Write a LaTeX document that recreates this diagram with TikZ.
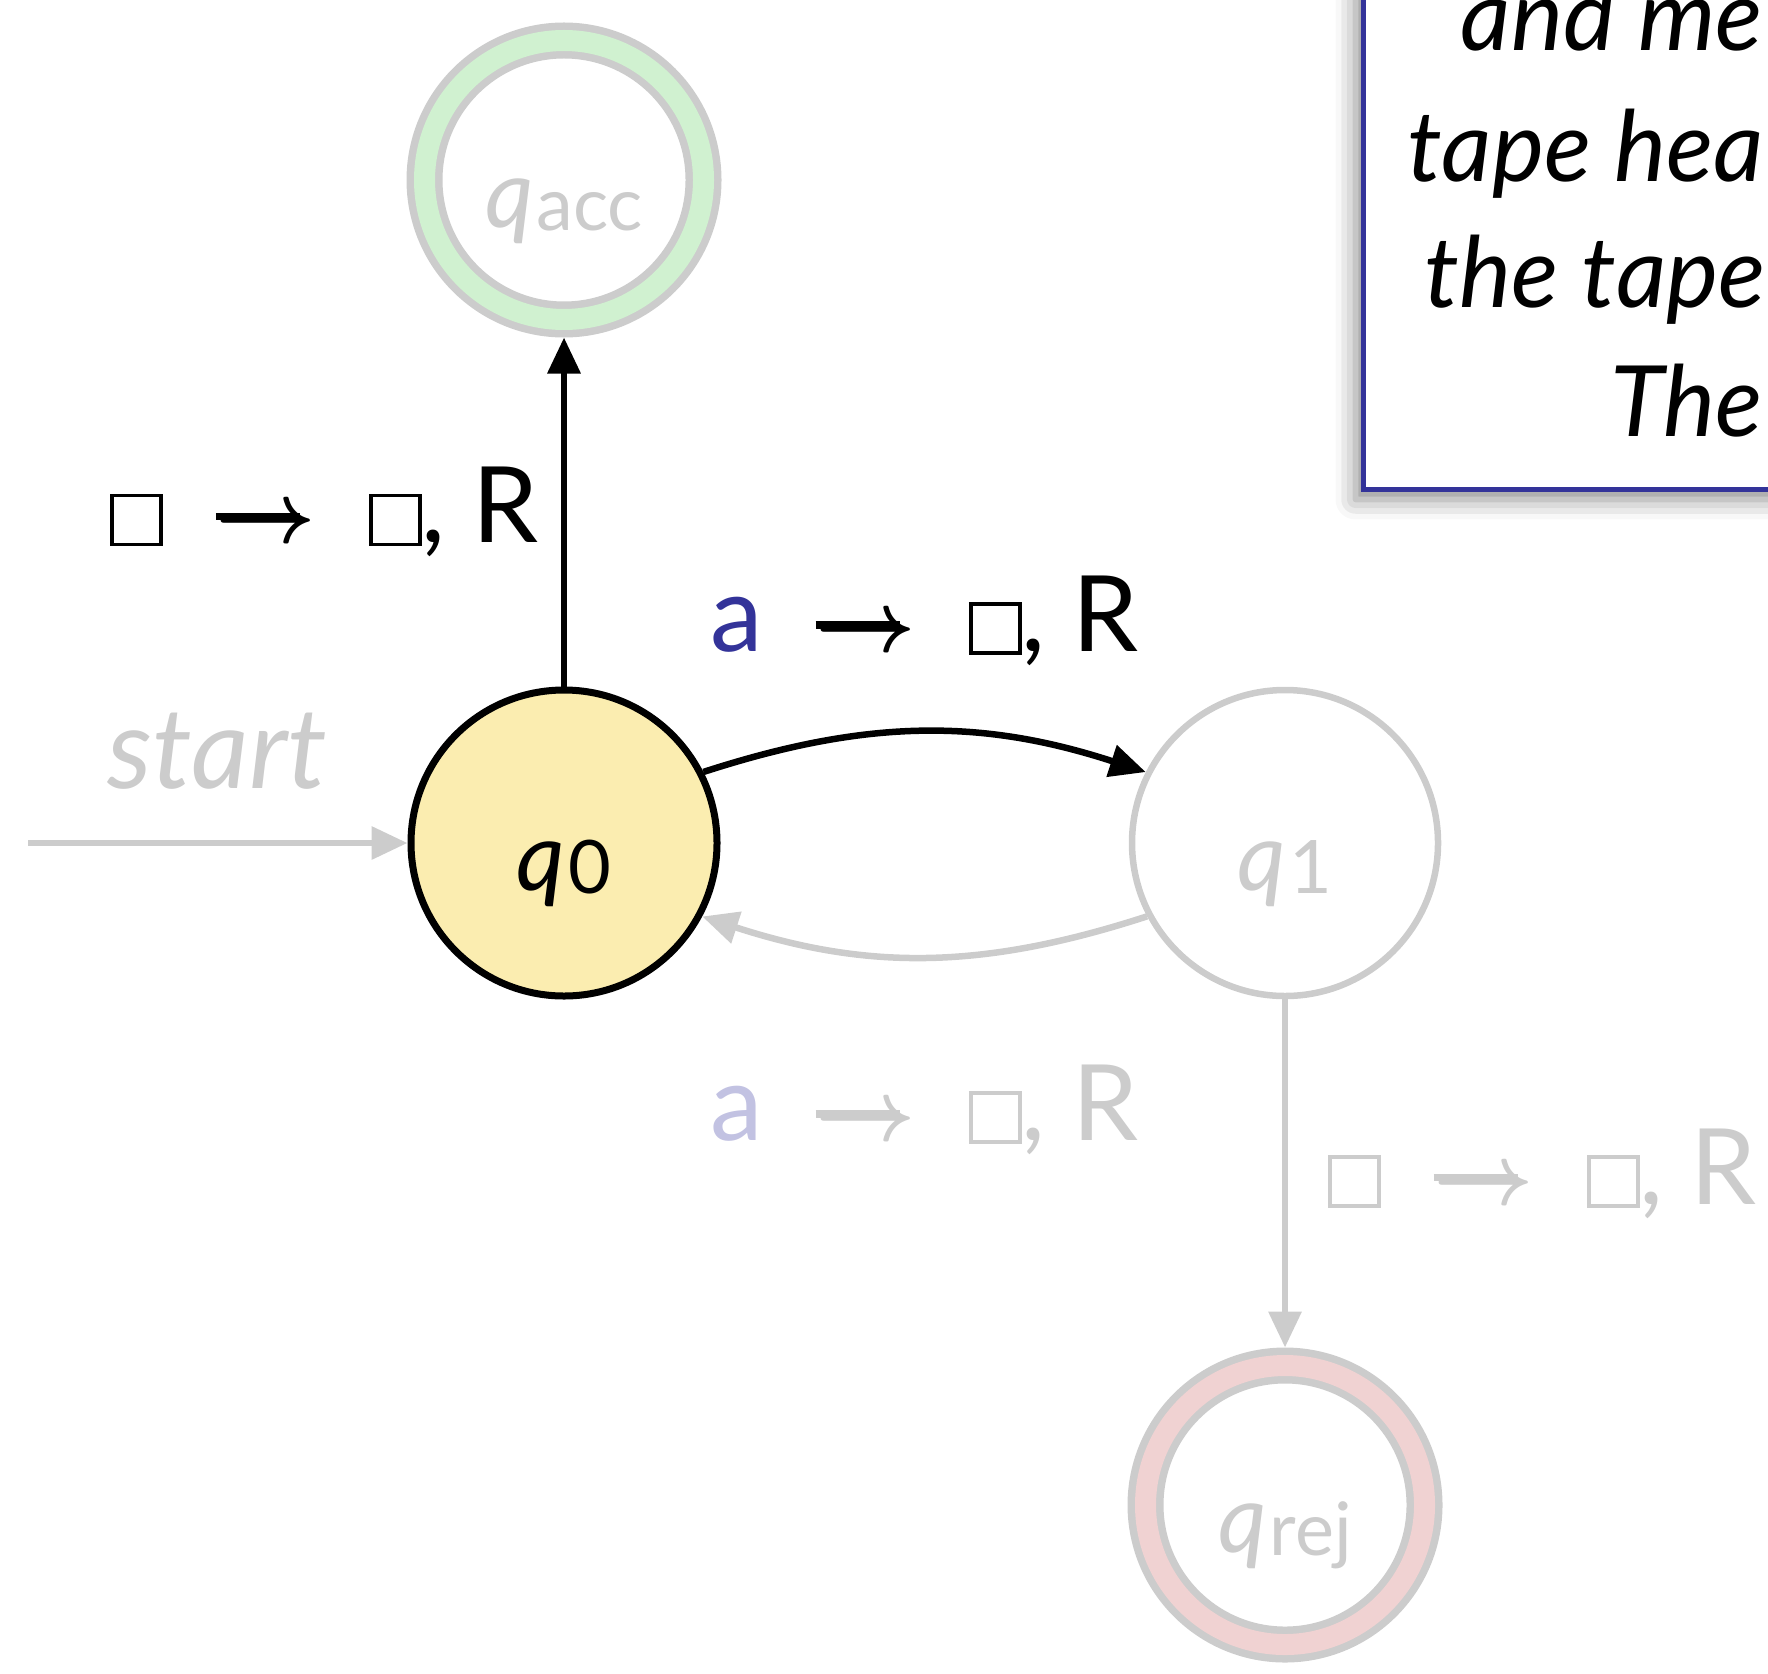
\documentclass[tikz,border=0pt]{standalone}
\usepackage{amsmath}
\usepackage{fontspec}
\setmainfont{Lato}
\usetikzlibrary{arrows.meta,shadows.blur}

\definecolor{stategray}{HTML}{CCCCCC}
\definecolor{startyellow}{HTML}{FBEDB0}
\definecolor{accgreen}{HTML}{D0F1D0}
\definecolor{rejpink}{HTML}{F0D2D2}
\definecolor{boxblue}{HTML}{333399}
\definecolor{fadedblue}{HTML}{C2C2E2}

% blank tape symbol and a heavier arrow
\newcommand{\blank}{{\setlength{\fboxsep}{0pt}\setlength{\fboxrule}{0.035em}\fbox{\rule{0pt}{0.43em}\hspace{0.43em}}}}
\newcommand{\tarrow}{\rlap{\rule[0.215em]{0.8em}{0.07em}}$\boldsymbol{\rightarrow}$}
\newcommand{\trans}[3]{#1\enspace\tarrow\enspace#2, #3}
\newcommand{\qsub}[1]{\textit{q}\kern0.03em\raisebox{-0.03em}{\fontsize{21}{24}\selectfont #1}}

\begin{document}
\begin{tikzpicture}

    \tikzset{
      state/.style={
        circle,
        draw,
        line width=0.07cm,
        minimum size=3.06cm,
        inner sep=0pt,
        text height=0.95cm,
        text depth=0pt,
        font=\fontsize{27}{32}\selectfont,
      },
      halting/.style={
        state,
        draw=stategray,
        line width=0.075cm,
        minimum size=2.79cm,
        double distance=0.21cm,
        fill=white,
        text=stategray,
        outer sep=0.18cm,
      },
      trlabel/.style={font=\fontsize{30}{36}\selectfont, inner sep=0pt},
      boxline/.style={font=\fontsize{28}{34}\selectfont\itshape, inner sep=0pt, anchor=base west},
      tedge/.style={line width=0.065cm, -{Triangle[length=0.36cm,width=0.32cm]}},
      gedge/.style={tedge, draw=stategray, line width=0.065cm},
    }
    \useasboundingbox (0,0) rectangle (17.68,16.73);

    % states
    \node[state, fill=startyellow] (q0) at (5.64,8.30) {\qsub{0}};
    \node[state, draw=stategray, line width=0.065cm, text=stategray] (q1) at (12.85,8.30) {\qsub{1}};
    \node[halting, double=accgreen] (qacc) at (5.64,14.93) {\qsub{acc}};
    \node[halting, double=rejpink] (qrej) at (12.85,1.68) {\qsub{rej}};
    \coordinate (start) at (0.28,8.30);

    % transitions
    \draw[gedge] (start) -- (q0)
      node[midway, above=0.5cm, trlabel, text=stategray, font=\fontsize{32}{36}\selectfont\itshape] (startlabel) {start};
    \draw[tedge] (q0) -- (qacc)
      node[midway, left=0.22cm, trlabel] (acclabel) {\trans{\blank}{\blank}{R}};
    \draw[tedge] (q0.27) to[bend left=18]
      node[midway, above=0.63cm, trlabel] (readlabel) {\trans{\textcolor{boxblue}{a}}{\blank}{R}} (q1.153);
    \draw[gedge] (q1.208) to[bend left=18]
      node[midway, below=1.05cm, trlabel, text=stategray] (backlabel) {\trans{\textcolor{fadedblue}{a}}{\blank}{R}} (q0.332);
    \draw[gedge] (q1) -- (qrej)
      node[midway, right=0.4cm, trlabel, text=stategray] (rejlabel) {\trans{\blank}{\blank}{R}};

    % note box, runs off the page
    \node[draw=boxblue, line width=0.05cm, fill=white, anchor=south west,
      minimum width=6cm, minimum height=6cm,
      blur shadow={shadow xshift=-0.08cm, shadow yshift=-0.1cm, shadow blur radius=0.2cm, shadow opacity=45}] (note) at (13.61,11.81) {};
    \node[boxline] (line1) at (14.60,16.22) {and me};
    \node[boxline] (line2) at (14.07,14.91) {tape hea};
    \node[boxline] (line3) at (14.24,13.65) {the tape};
    \node[boxline] (line4) at (16.10,12.37) {The};

\end{tikzpicture}
\end{document}
